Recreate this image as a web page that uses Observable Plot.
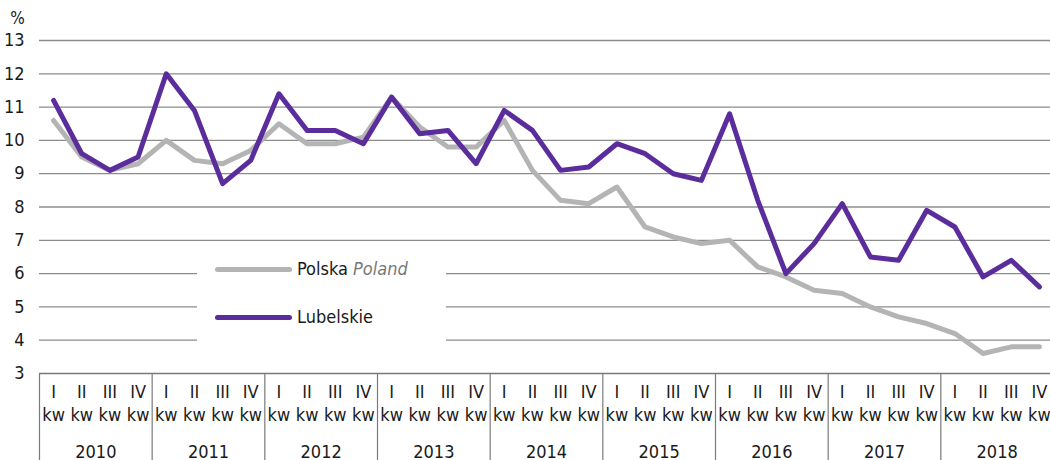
<!DOCTYPE html>
<html>
<head>
<meta charset="utf-8">
<script src="https://cdn.jsdelivr.net/npm/d3@7"></script>
<script src="https://cdn.jsdelivr.net/npm/@observablehq/plot@0.6"></script>
<style>
  html, body { margin: 0; padding: 0; background: #fff; }
  #wrap { position: relative; width: 1050px; height: 460px; overflow: hidden;
    font-family: "Liberation Sans Narrow", "DejaVu Sans Condensed", "Roboto Condensed", sans-serif; }
  #legend { position: absolute; left: 197px; top: 250px; width: 249px; height: 100px; background: #fff; }
  .li { position: absolute; left: 18px; width: 77px; height: 5px; border-radius: 3px; }
  .lt { position: absolute; left: 100px; font-size: 18px; color: #1a1a1a; line-height: 20px; white-space: nowrap; }
  .lt i { color: #777; }
</style>
</head>
<body>
<div id="wrap"></div>
<script>
const years = [2010, 2011, 2012, 2013, 2014, 2015, 2016, 2017, 2018];
const quarters = ["I", "II", "III", "IV"];
const quarterSuffix = "kw";
const yTicks = [3, 4, 5, 6, 7, 8, 9, 10, 11, 12, 13];
const polska = [
  10.6, 9.5, 9.1, 9.3,
  10.0, 9.4, 9.3, 9.7,
  10.5, 9.9, 9.9, 10.1,
  11.3, 10.4, 9.8, 9.8,
  10.6, 9.1, 8.2, 8.1,
  8.6, 7.4, 7.1, 6.9,
  7.0, 6.2, 5.9, 5.5,
  5.4, 5.0, 4.7, 4.5,
  4.2, 3.6, 3.8, 3.8
];
const lubelskie = [
  11.2, 9.6, 9.1, 9.5,
  12.0, 10.9, 8.7, 9.4,
  11.4, 10.3, 10.3, 9.9,
  11.3, 10.2, 10.3, 9.3,
  10.9, 10.3, 9.1, 9.2,
  9.9, 9.6, 9.0, 8.8,
  10.8, 8.2, 6.0, 6.9,
  8.1, 6.5, 6.4, 7.9,
  7.4, 5.9, 6.4, 5.6
];
const seriesNames = ["Polska", "Lubelskie"];
const seriesItalic = ["Poland", ""];
const colors = ["#b4b4b4", "#5b2c9b"];

const data = polska.map((v, i) => ({ i, polska: v, lubelskie: lubelskie[i] }));
const separators = d3.range(years.length + 1).map(k => 4 * k - 0.5);

const chart = Plot.plot({
  width: 1050,
  height: 460,
  marginLeft: 39,
  marginRight: 0,
  marginTop: 40,
  marginBottom: 87,
  style: { fontFamily: '"Liberation Sans Narrow", "DejaVu Sans Condensed", "Roboto Condensed", sans-serif', fontSize: "17px", color: "#1a1a1a", background: "transparent" },
  x: { domain: [-0.5, 35.5], range: [39, 1053], axis: null },
  y: { domain: [3, 13], range: [373, 40], axis: null },
  marks: [
    Plot.ruleY(yTicks.filter(t => t > 3), { stroke: "#8c8c8c", strokeWidth: 1.3 }),
    Plot.ruleY([3], { stroke: "#7a7a7a", strokeWidth: 1.3 }),
    Plot.ruleX(separators, { x: d => d, insetTop: 333, insetBottom: -90, stroke: "#7a7a7a", strokeWidth: 1.2 }),
    Plot.axisY(yTicks, { tickSize: 0, tickPadding: 15, fontSize: 18, label: null }),
    Plot.text(["%"], { frameAnchor: "top-left", textAnchor: "middle", lineAnchor: "middle", dx: -22, dy: -22, fontSize: 17 }),
    Plot.text(data, { x: "i", frameAnchor: "bottom", text: d => quarters[d.i % 4], dy: 24, fontSize: 18 }),
    Plot.text(data, { x: "i", frameAnchor: "bottom", text: () => quarterSuffix, dy: 47, fontSize: 18 }),
    Plot.text(years, { x: (d, k) => 4 * k + 1.5, frameAnchor: "bottom", text: d => String(d), dy: 84, fontSize: 18 }),
    Plot.line(data, { x: "i", y: "polska", stroke: colors[0], strokeWidth: 5, strokeLinejoin: "round", strokeLinecap: "round" }),
    Plot.line(data, { x: "i", y: "lubelskie", stroke: colors[1], strokeWidth: 5, strokeLinejoin: "round", strokeLinecap: "round" })
  ]
});

const wrap = document.getElementById("wrap");
wrap.appendChild(chart);

const legend = document.createElement("div");
legend.id = "legend";
const legendY = [19, 67];
seriesNames.forEach((name, k) => {
  const line = document.createElement("div");
  line.className = "li";
  line.style.top = (legendY[k] - 2.5) + "px";
  line.style.background = colors[k];
  legend.appendChild(line);
  const t = document.createElement("div");
  t.className = "lt";
  t.style.top = (legendY[k] - 10) + "px";
  t.textContent = name + (seriesItalic[k] ? " " : "");
  if (seriesItalic[k]) {
    const it = document.createElement("i");
    it.textContent = seriesItalic[k];
    t.appendChild(it);
  }
  legend.appendChild(t);
});
wrap.appendChild(legend);
</script>
</body>
</html>
